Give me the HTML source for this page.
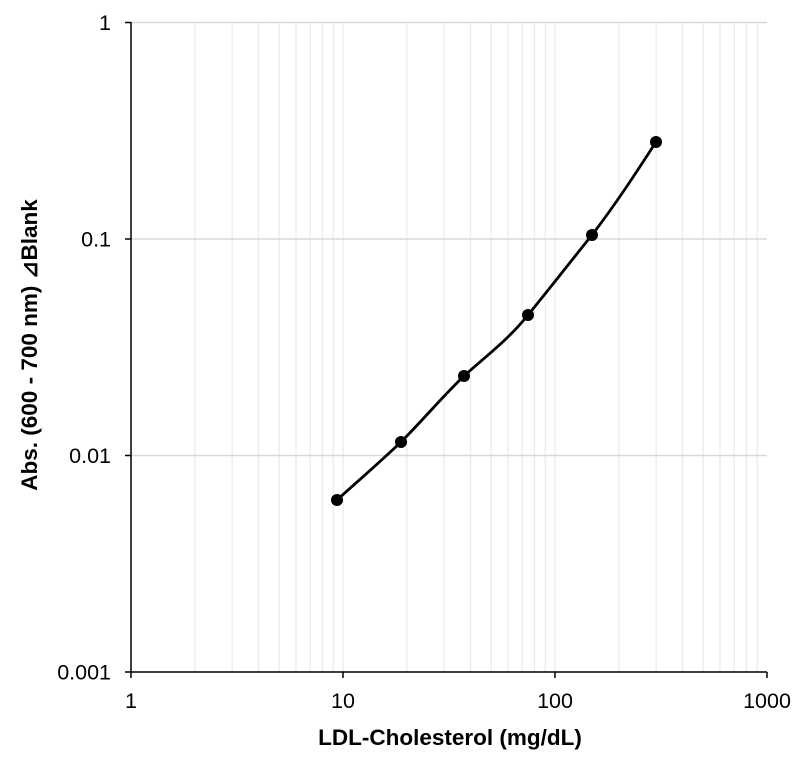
<!DOCTYPE html><html><head><style>body{margin:0;background:#fff}</style></head><body>
<svg width="800" height="756" xmlns="http://www.w3.org/2000/svg" font-family="Liberation Sans, Arial, sans-serif">
<g stroke="#ebebeb" stroke-width="1.3">
<line x1="194.8" y1="22" x2="194.8" y2="672"/><line x1="232.1" y1="22" x2="232.1" y2="672"/><line x1="258.6" y1="22" x2="258.6" y2="672"/><line x1="279.2" y1="22" x2="279.2" y2="672"/><line x1="296" y1="22" x2="296" y2="672"/><line x1="310.2" y1="22" x2="310.2" y2="672"/><line x1="322.5" y1="22" x2="322.5" y2="672"/><line x1="333.3" y1="22" x2="333.3" y2="672"/><line x1="343" y1="22" x2="343" y2="672"/>
<line x1="406.8" y1="22" x2="406.8" y2="672"/><line x1="444.1" y1="22" x2="444.1" y2="672"/><line x1="470.6" y1="22" x2="470.6" y2="672"/><line x1="491.2" y1="22" x2="491.2" y2="672"/><line x1="508" y1="22" x2="508" y2="672"/><line x1="522.2" y1="22" x2="522.2" y2="672"/><line x1="534.5" y1="22" x2="534.5" y2="672"/><line x1="545.3" y1="22" x2="545.3" y2="672"/><line x1="555" y1="22" x2="555" y2="672"/>
<line x1="618.8" y1="22" x2="618.8" y2="672"/><line x1="656.1" y1="22" x2="656.1" y2="672"/><line x1="682.6" y1="22" x2="682.6" y2="672"/><line x1="703.2" y1="22" x2="703.2" y2="672"/><line x1="720" y1="22" x2="720" y2="672"/><line x1="734.2" y1="22" x2="734.2" y2="672"/><line x1="746.5" y1="22" x2="746.5" y2="672"/><line x1="757.3" y1="22" x2="757.3" y2="672"/>
</g>
<g stroke="#d9d9d9" stroke-width="1.5">
<line x1="131" y1="22.5" x2="767" y2="22.5"/><line x1="131" y1="239" x2="767" y2="239"/><line x1="131" y1="455.5" x2="767" y2="455.5"/>
</g>
<g stroke="#000" stroke-width="1.5">
<line x1="131" y1="22" x2="131" y2="672"/><line x1="131" y1="672" x2="767" y2="672"/>
<line x1="125" y1="22.5" x2="131" y2="22.5"/><line x1="125" y1="239" x2="131" y2="239"/><line x1="125" y1="455.5" x2="131" y2="455.5"/><line x1="125" y1="672" x2="131" y2="672"/>
<line x1="131" y1="672" x2="131" y2="678"/><line x1="343" y1="672" x2="343" y2="678"/><line x1="555" y1="672" x2="555" y2="678"/><line x1="767" y1="672" x2="767" y2="678"/>
</g>
<g font-size="21.5" text-anchor="end">
<text x="111" y="30">1</text><text x="111" y="246.5">0.1</text><text x="111" y="463">0.01</text><text x="111" y="679.5">0.001</text>
</g>
<g font-size="21.5" text-anchor="middle">
<text x="131" y="708">1</text><text x="343" y="708">10</text><text x="555" y="708">100</text><text x="767" y="708">1000</text>
</g>
<path d="M337,500 C358,481 380,462 401,442 C423,420 442,397 464,376 C486,356 508,340 528,315 C551,287 571,261 592,235 C615,205 634,176 656,142" fill="none" stroke="#000" stroke-width="2.8"/>
<g fill="#000">
<circle cx="337" cy="500" r="6"/><circle cx="401" cy="442" r="6"/><circle cx="464" cy="376" r="6"/><circle cx="528" cy="315" r="6"/><circle cx="592" cy="235" r="6"/><circle cx="656" cy="142" r="6"/>
</g>
<text x="450" y="745" font-size="22.5" font-weight="bold" text-anchor="middle">LDL-Cholesterol (mg/dL)</text>
<text transform="translate(37,345) rotate(-90)" font-size="22.5" font-weight="bold" text-anchor="middle">Abs. (600 - 700 nm) ⊿Blank</text>
</svg></body></html>
